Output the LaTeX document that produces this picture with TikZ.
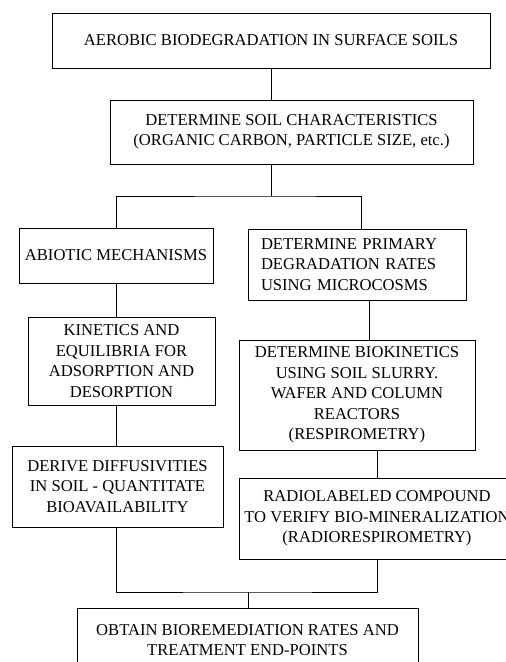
\documentclass[tikz,border=0pt]{standalone}
\usepackage{fontspec}
\setmainfont{Liberation Serif}
\usetikzlibrary{calc}

\begin{document}
\begin{tikzpicture}[x=1pt,y=-1pt,
    box/.style={draw,line width=0.9pt,align=center,inner sep=0pt,
      font=\fontsize{16.6}{20.5}\selectfont}]
  \useasboundingbox (0,0) rectangle (506,662);
  \clip (0,0) rectangle (506,662);

  \node[box,minimum width=438,minimum height=55] (aerobic) at (271,40.5)
    {AEROBIC BIODEGRADATION IN SURFACE SOILS};
  \node[box,minimum width=363,minimum height=64] (soil) at (291.5,132)
    {DETERMINE SOIL CHARACTERISTICS\\(ORGANIC CARBON, PARTICLE SIZE, etc.)};

  \node[box,minimum width=194,minimum height=55] (abiotic) at (116,255.5)
    {ABIOTIC MECHANISMS};
  \node[box,minimum width=187,minimum height=88] (kinetics) at (121.5,361)
    {KINETICS AND\\EQUILIBRIA FOR\\ADSORPTION AND\\DESORPTION};
  \node[box,minimum width=211,minimum height=81] (derive) at (117.5,486.5)
    {DERIVE DIFFUSIVITIES\\IN SOIL - QUANTITATE\\BIOAVAILABILITY};

  \node[box,align=left,text width=192,inner xsep=13,minimum height=71] (primary) at (357,264.5)
    {DETERMINE PRIMARY\\DEGRADATION RATES\\USING MICROCOSMS};
  \node[box,minimum width=236,minimum height=110] (biokin) at (357,395)
    {DETERMINE BIOKINETICS\\USING SOIL SLURRY.\\WAFER AND COLUMN\\REACTORS\\(RESPIROMETRY)};
  \node[box,minimum width=276,minimum height=81] (radio) at (377,518.5)
    {RADIOLABELED COMPOUND\\TO VERIFY BIO-MINERALIZATION\\(RADIORESPIROMETRY)};

  \node[box,minimum width=341,minimum height=64] (final) at (247.5,640)
    {OBTAIN BIOREMEDIATION RATES AND\\TREATMENT END-POINTS};

  \coordinate (fork) at (271,196);
  \coordinate (join) at (248,592);

  \tikzset{every path/.style={line width=0.9pt}}
  \draw (aerobic.south) -- (aerobic.south |- soil.north);
  \draw (fork |- soil.south) -- (fork);
  \draw (abiotic.north) |- (fork) -| ([xshift=4pt]primary.north);
  \draw (abiotic.south) -- (abiotic.south |- kinetics.north);
  \draw (abiotic.south |- kinetics.south) -- (abiotic.south |- derive.north);
  \draw ([xshift=12pt]primary.south) -- ([xshift=12pt]primary.south |- biokin.north);
  \draw (radio.north |- biokin.south) -- (radio.north);
  \draw (abiotic.south |- derive.south) |- (join) -| (radio.south);
  \draw (join) -- (join |- final.north);
\end{tikzpicture}
\end{document}
